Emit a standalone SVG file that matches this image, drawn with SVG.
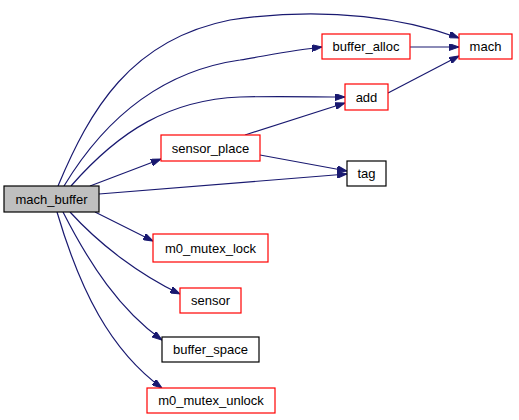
<svg xmlns="http://www.w3.org/2000/svg" width="519" height="420" viewBox="0 0 519 420">
<defs>
<marker id="arr" viewBox="0 0 10 7" refX="10" refY="3.5" markerWidth="10" markerHeight="7" markerUnits="userSpaceOnUse" orient="auto">
<path d="M0,0 L10,3.5 L0,7 Z" fill="#191970" stroke="#191970"/>
</marker>
<style>
.e{fill:none;stroke:#191970;stroke-width:1.2;marker-end:url(#arr)}
.n rect{fill:#ffffff;stroke:#ff0000;stroke-width:1.2}
.n.k rect{stroke:#000000}
.n.g rect{fill:#bfbfbf;stroke:#000000}
.n text{font-family:"Liberation Sans",Arial,sans-serif;font-size:13px;fill:#000000;text-anchor:middle}
</style>
</defs>
<rect width="519" height="420" fill="#ffffff"/>
<g id="edges">
<path class="e" d="M58,186 C90,110 130,40 230,20 C330,5 410,20 459,38"/>
<path class="e" d="M64,186 C110,110 170,70 240,60 C270,55 295,50 322,47"/>
<path class="e" d="M71,186 C120,130 170,100 240,97 C280,96 315,97 345,97"/>
<path class="e" d="M90,186 L161,159"/>
<path class="e" d="M99,194 L347,174"/>
<path class="e" d="M95,212 L153,241"/>
<path class="e" d="M70,212 C100,245 140,275 180,294"/>
<path class="e" d="M63,212 C90,265 120,310 162,340"/>
<path class="e" d="M57,212 C80,290 110,350 162,388"/>
<path class="e" d="M245,135 L345,103"/>
<path class="e" d="M260,155 L347,171"/>
<path class="e" d="M410,47 L459,47"/>
<path class="e" d="M388,93 L459,56"/>
</g>
<g id="mach_buffer" class="n g"><rect x="4" y="186" width="95" height="26"/><text x="51.5" y="204">mach_buffer</text></g>
<g id="mach" class="n"><rect x="459" y="34" width="53" height="25"/><text x="485.5" y="51">mach</text></g>
<g id="buffer_alloc" class="n"><rect x="322" y="34" width="88" height="25"/><text x="366" y="51">buffer_alloc</text></g>
<g id="add" class="n"><rect x="345" y="84" width="43" height="26"/><text x="366.5" y="102">add</text></g>
<g id="sensor_place" class="n"><rect x="161" y="135" width="99" height="26"/><text x="210.5" y="153">sensor_place</text></g>
<g id="tag" class="n k"><rect x="347" y="161" width="39" height="25"/><text x="366.5" y="178">tag</text></g>
<g id="m0_mutex_lock" class="n"><rect x="153" y="234" width="115" height="28"/><text x="210.5" y="253">m0_mutex_lock</text></g>
<g id="sensor" class="n"><rect x="180" y="288" width="61" height="25"/><text x="210.5" y="305">sensor</text></g>
<g id="buffer_space" class="n k"><rect x="162" y="337" width="97" height="25"/><text x="210.5" y="354">buffer_space</text></g>
<g id="m0_mutex_unlock" class="n"><rect x="147" y="388" width="128" height="25"/><text x="211" y="405">m0_mutex_unlock</text></g>
</svg>
